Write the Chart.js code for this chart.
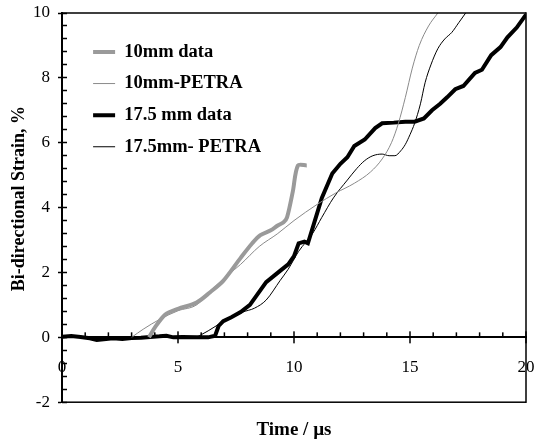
<!DOCTYPE html>
<html>
<head>
<meta charset="utf-8">
<script src="https://cdn.jsdelivr.net/npm/chart.js@4"></script>
<style>
  html, body { margin: 0; padding: 0; background: #fff; }
  #wrap { width: 535px; height: 442px; }
</style>
</head>
<body>
<div id="wrap"><canvas id="strain"></canvas></div>
<script>
// 10mm data (thick grey)
const tenDataX = [3.75, 4.0, 4.45, 5.0, 5.8, 6.4, 6.95, 7.7, 8.2, 8.55, 9.0, 9.3, 9.55, 9.7, 9.95, 10.17, 10.55];
const tenDataY = [0, 0.3, 0.7, 0.88, 1.07, 1.4, 1.74, 2.45, 2.9, 3.15, 3.3, 3.45, 3.55, 3.7, 4.5, 5.3, 5.3];

// 10mm-PETRA (thin grey)
const tenPetraX = [3.0, 3.5, 4.2, 5.0, 5.8, 6.5, 7.2, 7.7, 8.5, 9.3, 10.0, 11.0, 11.8, 12.6, 13.3, 13.8, 14.2, 14.5, 14.8, 15.1, 15.4, 15.8, 16.2];
const tenPetraY = [0, 0.25, 0.55, 0.82, 1.0, 1.5, 1.95, 2.25, 2.8, 3.2, 3.6, 4.1, 4.45, 4.75, 5.1, 5.5, 6.0, 6.6, 7.4, 8.3, 9.0, 9.6, 10.0];

// 17.5 mm data (thick black)
const bigDataX = [0, 0.4, 0.8, 1.2, 1.5, 1.8, 2.2, 2.6, 3.0, 3.4, 3.8, 4.2, 4.5, 4.8, 5.2, 5.8, 6.3, 6.6, 6.75, 6.95, 7.3, 7.7, 8.1, 8.4, 8.8, 9.4, 9.75, 10.0, 10.2, 10.45, 10.6, 10.9, 11.2, 11.65, 12.0, 12.3, 12.6, 13.05, 13.5, 13.8, 14.3, 14.8, 15.2, 15.6, 15.95, 16.3, 16.6, 16.95, 17.3, 17.8, 18.1, 18.5, 18.9, 19.2, 19.6, 20];
const bigDataY = [0.02, 0.04, 0.01, -0.03, -0.08, -0.06, -0.03, -0.05, -0.02, -0.01, 0.01, 0.03, 0.05, 0.0, 0.01, 0.0, 0.0, 0.05, 0.35, 0.5, 0.62, 0.78, 1.0, 1.3, 1.7, 2.05, 2.25, 2.5, 2.9, 2.95, 2.9, 3.6, 4.3, 5.05, 5.35, 5.55, 5.9, 6.1, 6.45, 6.6, 6.62, 6.65, 6.65, 6.75, 7.0, 7.2, 7.4, 7.65, 7.75, 8.15, 8.25, 8.7, 8.95, 9.25, 9.55, 9.95];

// 17.5mm- PETRA (thin black)
const bigPetraX = [5.8, 6.3, 6.8, 7.3, 7.8, 8.3, 8.8, 9.4, 9.75, 10.2, 10.8, 11.2, 11.7, 12.3, 12.7, 13.05, 13.4, 13.8, 14.1, 14.35, 14.6, 14.8, 15.0, 15.2, 15.45, 15.65, 15.9, 16.2, 16.5, 16.8, 17.1, 17.4];
const bigPetraY = [0, 0.2, 0.42, 0.6, 0.78, 0.9, 1.15, 1.75, 2.1, 2.65, 3.2, 3.7, 4.3, 4.85, 5.2, 5.45, 5.6, 5.65, 5.6, 5.6, 5.75, 5.95, 6.25, 6.6, 7.2, 7.85, 8.4, 8.9, 9.2, 9.4, 9.7, 10.0];

const seriesNames = ['10mm data', '10mm-PETRA', '17.5 mm data', '17.5mm- PETRA'];
const xTickValues = [0, 1, 2, 3, 4, 5, 6, 7, 8, 9, 10, 11, 12, 13, 14, 15, 16, 17, 18, 19, 20];
const yTickValues = [-2, -1.6, -1.2, -0.8, -0.4, 0, 0.4, 0.8, 1.2, 1.6, 2, 2.4, 2.8, 3.2, 3.6, 4, 4.4, 4.8, 5.2, 5.6, 6, 6.4, 6.8, 7.2, 7.6, 8, 8.4, 8.8, 9.2, 9.6, 10];

const serif = "'Times New Roman', 'Liberation Serif', serif";
const clear = 'rgba(0,0,0,0)';

function pts(xs, ys) {
    return xs.map(function(x, i) { return {x: x, y: ys[i]}; });
}
function setTicks(values) {
    return function(s) { s.ticks = values.map(function(v) { return {value: v}; }); };
}

const frameTicks = {
    id: 'frameTicks',
    afterUpdate(chart) {
        // nudge the legend into the upper left of the plot
        chart.legend.left = chart.chartArea.left + 18;
        chart.legend.top = chart.chartArea.top + 16.6;
    },
    afterRender(chart) {
        const g = chart.ctx;
        const a = chart.chartArea;
        const xs = chart.scales.x, ys = chart.scales.y;
        const y0 = ys.getPixelForValue(0);
        const dpr = chart.currentDevicePixelRatio || 1;
        // drop any state left behind, then draw with a clean context
        for (let i = 0; i < 20; i++) g.restore();
        g.save();
        g.setTransform(dpr, 0, 0, dpr, 0, 0);
        g.globalAlpha = 1;
        g.globalCompositeOperation = 'source-over';
        g.setLineDash([]);
        g.shadowColor = clear;
        g.fillStyle = '#000';
        // frame: top, right, bottom
        g.fillRect(a.left, a.top - 0.75, a.right - a.left, 1.5);
        g.fillRect(a.right - 0.75, a.top - 0.75, 1.5, a.bottom - a.top + 1.5);
        g.fillRect(a.left, a.bottom - 0.75, a.right - a.left, 1.5);
        // x ticks across the zero line
        xTickValues.forEach(function(v, i) {
            const px = xs.getPixelForValue(v);
            if (i % 5 === 0) g.fillRect(px - 0.75, y0 - 6, 1.5, 12);
            else g.fillRect(px - 0.75, y0 - 5, 1.5, 5);
        });
        g.restore();
    }
};

const ctx = document.getElementById('strain');
new Chart(ctx, {
    type: 'line',
    data: {
        datasets: [{
            label: seriesNames[0],
            data: pts(tenDataX, tenDataY),
            borderColor: '#9a9a9a',
            borderWidth: 4,
            tension: 0.3,
            xAxisID: 'x', yAxisID: 'y'
        }, {
            label: seriesNames[1],
            data: pts(tenPetraX, tenPetraY),
            borderColor: '#8a8a8a',
            borderWidth: 1,
            cubicInterpolationMode: 'monotone',
            xAxisID: 'x', yAxisID: 'y'
        }, {
            label: seriesNames[2],
            data: pts(bigDataX, bigDataY),
            borderColor: '#000',
            borderWidth: 4,
            tension: 0,
            xAxisID: 'x', yAxisID: 'y'
        }, {
            label: seriesNames[3],
            data: pts(bigPetraX, bigPetraY),
            borderColor: '#000',
            borderWidth: 1,
            cubicInterpolationMode: 'monotone',
            xAxisID: 'x', yAxisID: 'y'
        }]
    },
    options: {
        responsive: true,
        maintainAspectRatio: false,
        animation: false,
        layout: {padding: {left: 0, right: 9, top: 13, bottom: 0}},
        elements: {point: {radius: 0}},
        scales: {
            x: {
                type: 'linear',
                position: {y: 0},
                min: 0, max: 20,
                afterBuildTicks: setTicks(xTickValues),
                afterFit: function(s) { s.paddingLeft = 0; s.paddingRight = 0; },
                grid: {drawOnChartArea: false, drawTicks: false},
                border: {color: '#000', width: 2},
                ticks: {
                    color: '#000', padding: 20, maxRotation: 0, autoSkip: false,
                    font: {family: serif, size: 17},
                    callback: function(v, i) { return i % 5 === 0 ? String(Math.round(v)) : ''; }
                }
            },
            y: {
                min: -2, max: 10,
                afterBuildTicks: setTicks(yTickValues),
                afterFit: function(s) { s.width = 62; s.paddingTop = 0; s.paddingBottom = 0; },
                grid: {
                    drawOnChartArea: false, drawTicks: true, tickLength: 4, tickWidth: 1.5,
                    tickColor: function(c) { return c.index % 5 === 0 ? '#000' : clear; }
                },
                border: {color: '#000', width: 2},
                ticks: {
                    color: '#000', padding: 8, autoSkip: false,
                    font: {family: serif, size: 17},
                    callback: function(v, i) { return i % 5 === 0 ? String(Math.round(v)) : ''; }
                },
                title: {
                    display: true,
                    text: '    Bi-directional Strain, %',
                    color: '#000',
                    padding: {top: 9, bottom: 0},
                    font: {family: serif, size: 18, weight: 'bold'}
                }
            },
            // inward half of the y tick marks
            yIn: {
                axis: 'y', position: {x: 0}, display: true,
                min: -2, max: 10,
                afterBuildTicks: setTicks(yTickValues),
                grid: {drawOnChartArea: false, drawTicks: true, tickLength: -5, tickWidth: 1.5, tickColor: '#000'},
                ticks: {display: false},
                border: {display: false}
            }
        },
        plugins: {
            legend: {
                position: 'chartArea',
                align: 'start',
                labels: {
                    usePointStyle: true,
                    pointStyle: 'line',
                    pointStyleWidth: 22,
                    padding: 13.1,
                    color: '#000',
                    font: {family: serif, size: 18.5, weight: 'bold'}
                }
            },
            title: {
                display: true,
                position: 'bottom',
                fullSize: false,
                text: 'Time / µs',
                color: '#000',
                padding: {top: 16, bottom: 1},
                font: {family: serif, size: 19, weight: 'bold'}
            },
            tooltip: {enabled: false}
        }
    },
    plugins: [frameTicks]
});
</script>
</body>
</html>
